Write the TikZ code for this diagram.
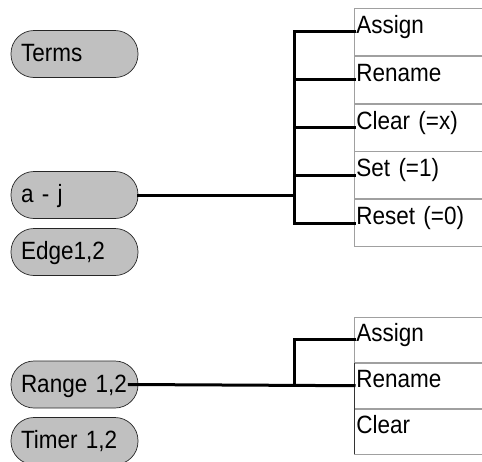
\documentclass[tikz,border=0pt]{standalone}
\usepackage{fontspec}
\setmainfont{Liberation Sans}[FakeStretch=0.9]
\usepackage{tikz}
\usetikzlibrary{positioning}

\definecolor{pillgray}{HTML}{C0C0C0}
\definecolor{rulegray}{HTML}{A0A0A0}

\begin{document}
\begin{tikzpicture}[
    x=1pt, y=-1pt,
    pill/.style={draw=black!85, fill=pillgray, line width=0.7pt, rectangle,
                 rounded corners=23pt, minimum width=127pt, minimum height=47pt,
                 text width=107pt, inner xsep=10pt, align=left,
                 text height=19pt, text depth=4pt,
                 font=\fontsize{25}{29}\selectfont},
    cell/.style={draw=rulegray, line width=0.8pt, rectangle, anchor=north west,
                 minimum width=140pt, text width=136pt, inner xsep=1pt, inner ysep=0pt,
                 align=left, text height=25pt, text depth=22pt,
                 font=\fontsize{25}{29}\selectfont},
    lowcell/.style={cell, text height=24pt, text depth=21pt},
    wire/.style={line width=3pt, line cap=rect}
]
\clip (0,0) rectangle (482,461);
\useasboundingbox (0,0) rectangle (482,461);

% left hand pills
\node[pill] (terms) at (74.5,54)    {Terms};
\node[pill] (aj)    at (74.5,195)   {a - j};
\node[pill] (edge)  at (74.5,252)   {Edge1,2};
\node[pill] (range) at (74.5,384.5) {Range 1,2};
\node[pill] (timer) at (74.5,441)   {Timer 1,2};

% upper list
\node[cell] (assign) at (354,8) {Assign};
\node[cell, below=0pt of assign] (rename) {Rename};
\node[cell, below=0pt of rename] (clear)  {Clear (=x)};
\node[cell, below=0pt of clear]  (set)    {Set (=1)};
\node[cell, below=0pt of set]    (reset)  {Reset (=0)};

% lower list
\node[lowcell] (assignb) at (354,317) {Assign};
\node[lowcell, below=0pt of assignb] (renameb) {Rename};
\node[lowcell, below=0pt of renameb] (clearb)  {Clear};
\draw[black!80, line width=0.8pt] (renameb.north west) -- (clearb.south west);

\coordinate (fork) at (294,0);

% upper tree
\draw[wire] (aj.east) -- (aj.east -| fork);
\draw[wire] (assign.west -| fork) -- (reset.west -| fork);
\foreach \c in {assign,rename,clear,set,reset}
    \draw[wire] (\c.west -| fork) -- (\c.west);

% lower tree
\draw[wire] ([xshift=-9pt]range.east) -- (renameb.west);
\draw[wire] (assignb.west -| fork) -- (renameb.west -| fork);
\draw[wire] (assignb.west -| fork) -- (assignb.west);
\end{tikzpicture}
\end{document}
